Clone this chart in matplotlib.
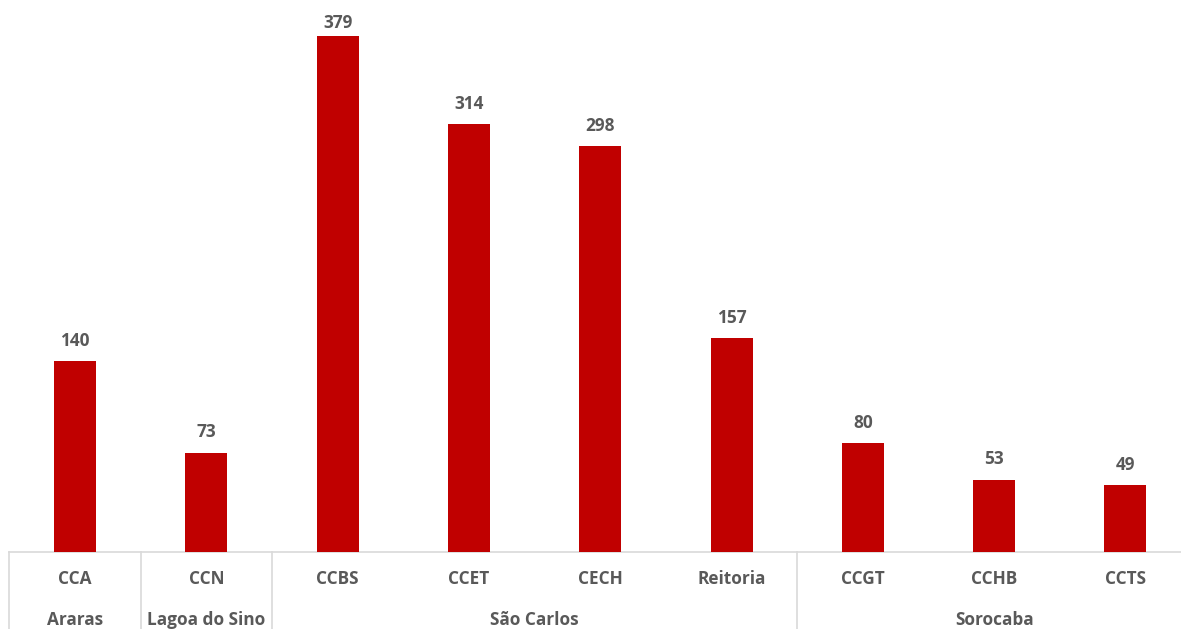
import matplotlib
matplotlib.use("Agg")
import matplotlib.pyplot as plt

categories = ["CCA", "CCN", "CCBS", "CCET", "CECH", "Reitoria", "CCGT", "CCHB", "CCTS"]
values = [140, 73, 379, 314, 298, 157, 80, 53, 49]
groups = ["Araras", "Lagoa do Sino", "São Carlos", "Sorocaba"]
group_sizes = [1, 1, 4, 3]

plt.rcParams['font.family'] = ['Open Sans', 'DejaVu Sans']
txt = "#595959"
grid = "#d9d9d9"
fs = 12.4

fig = plt.figure(figsize=(11.81, 6.29), dpi=100)
ax = fig.add_axes([0, 0, 1, 1])
ymin, ymax = -56.6, 405.4
ax.set_xlim(-0.571, 8.423)
ax.set_ylim(ymin, ymax)
ax.axis('off')

x = list(range(len(categories)))
ax.bar(x, values, width=0.32, color="#C00000", zorder=3)

# labels sit above bars, but are kept inside the chart area
px_per_unit = 629 / (ymax - ymin)
label_gap = 20.5 / px_per_unit
label_top = ymax - 22.5 / px_per_unit
for xi, v in zip(x, values):
    ax.text(xi, min(v + label_gap, label_top), str(v), ha='center', va='center',
            fontsize=fs, fontweight='bold', color=txt)

for xi, c in zip(x, categories):
    ax.text(xi, -19.8, c, ha='center', va='center', fontsize=fs, fontweight='bold', color=txt)

# axis line
ax.plot([-0.5, 9], [0, 0], color=grid, lw=1.2, zorder=2, clip_on=True)

# group separators and labels
start = 0
bounds = [-0.5]
for g, n in zip(groups, group_sizes):
    center = start + (n - 1) / 2
    ax.text(center, -50, g, ha='center', va='center', fontsize=fs, fontweight='bold', color=txt)
    start += n
    bounds.append(start - 0.5)
for b in bounds:
    ax.plot([b, b], [0, -60], color=grid, lw=1.2, zorder=2)

fig.savefig("out.png", dpi=100)
